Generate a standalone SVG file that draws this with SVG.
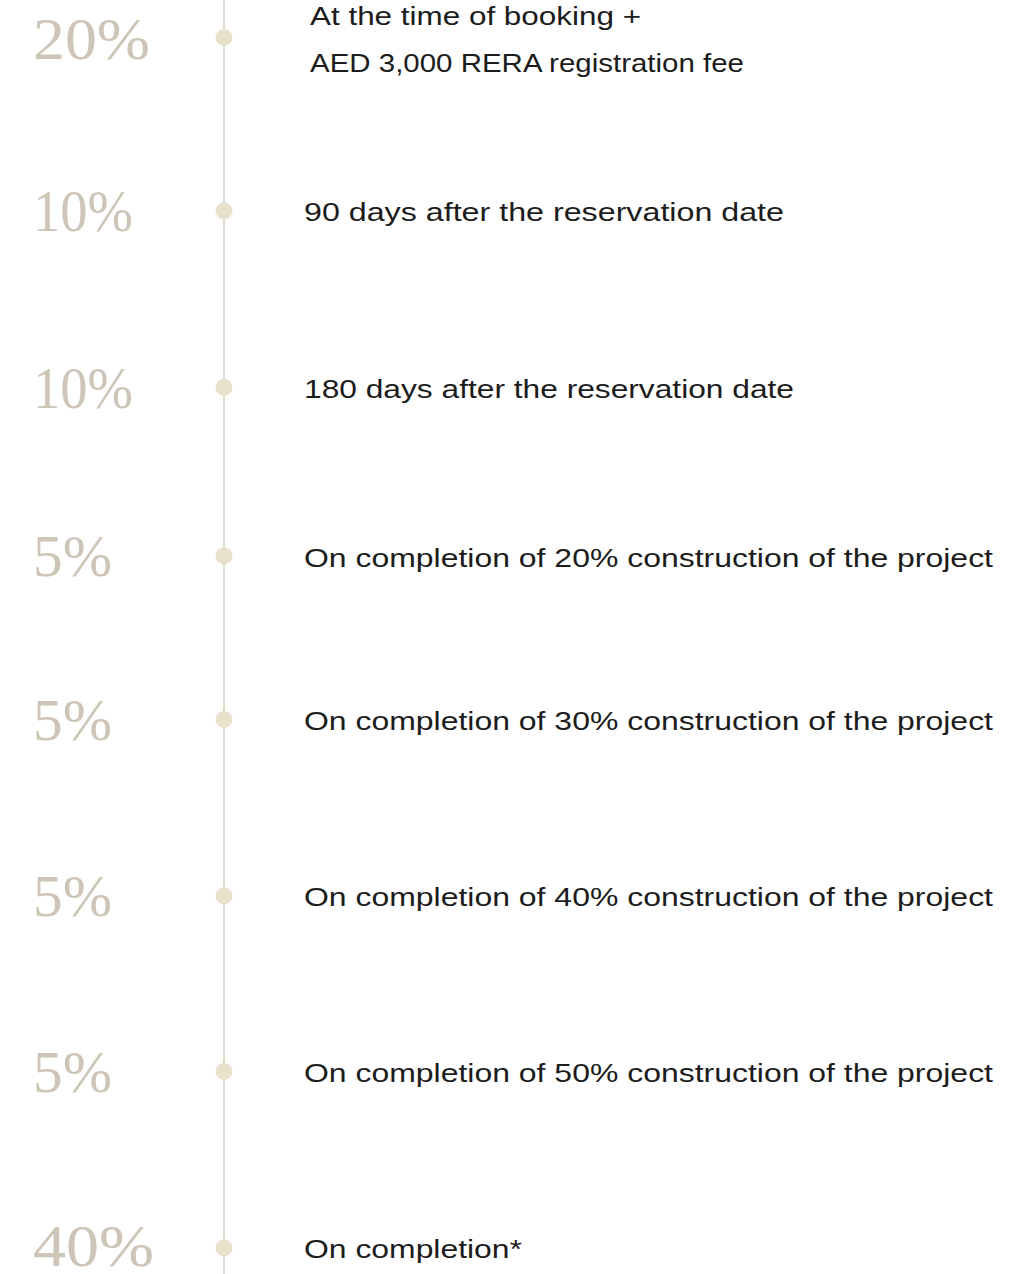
<svg xmlns="http://www.w3.org/2000/svg" width="1021" height="1274" viewBox="0 0 1021 1274">
<style>
.pct{font-family:"Liberation Serif",serif;font-size:60px;fill:#cdc5b7;}
.desc{font-family:"Liberation Sans",Arial,sans-serif;font-size:26px;fill:#1c1c1c;}
.dot{fill:#e8e1cb;}
.line{stroke:#e2dbcf;stroke-width:2;fill:none;}
</style>
<rect width="1021" height="1274" fill="#ffffff"/>
<g id="connectors">
<line class="line" x1="224" y1="0" x2="224" y2="1274"/>
</g>
<g id="row1">
<text class="pct" x="33" y="59" textLength="117" lengthAdjust="spacingAndGlyphs">20%</text>
<circle class="dot" cx="224" cy="37.5" r="8.5"/>
<text class="desc" x="310" y="25" textLength="331" lengthAdjust="spacingAndGlyphs">At the time of booking +</text>
<text class="desc" x="310" y="72" textLength="434" lengthAdjust="spacingAndGlyphs">AED 3,000 RERA registration fee</text>
</g>
<g id="row2">
<text class="pct" x="33" y="231" textLength="100" lengthAdjust="spacingAndGlyphs">10%</text>
<circle class="dot" cx="224" cy="211" r="8.5"/>
<text class="desc" x="304" y="221" textLength="480" lengthAdjust="spacingAndGlyphs">90 days after the reservation date</text>
</g>
<g id="row3">
<text class="pct" x="33" y="408" textLength="100" lengthAdjust="spacingAndGlyphs">10%</text>
<circle class="dot" cx="224" cy="387.5" r="8.5"/>
<text class="desc" x="304" y="398" textLength="490" lengthAdjust="spacingAndGlyphs">180 days after the reservation date</text>
</g>
<g id="row4">
<text class="pct" x="33" y="576" textLength="79" lengthAdjust="spacingAndGlyphs">5%</text>
<circle class="dot" cx="224" cy="556" r="8.5"/>
<text class="desc" x="304" y="567" textLength="689" lengthAdjust="spacingAndGlyphs">On completion of 20% construction of the project</text>
</g>
<g id="row5">
<text class="pct" x="33" y="740" textLength="79" lengthAdjust="spacingAndGlyphs">5%</text>
<circle class="dot" cx="224" cy="719.5" r="8.5"/>
<text class="desc" x="304" y="730" textLength="689" lengthAdjust="spacingAndGlyphs">On completion of 30% construction of the project</text>
</g>
<g id="row6">
<text class="pct" x="33" y="916" textLength="79" lengthAdjust="spacingAndGlyphs">5%</text>
<circle class="dot" cx="224" cy="896" r="8.5"/>
<text class="desc" x="304" y="906" textLength="689" lengthAdjust="spacingAndGlyphs">On completion of 40% construction of the project</text>
</g>
<g id="row7">
<text class="pct" x="33" y="1092" textLength="79" lengthAdjust="spacingAndGlyphs">5%</text>
<circle class="dot" cx="224" cy="1071.5" r="8.5"/>
<text class="desc" x="304" y="1082" textLength="689" lengthAdjust="spacingAndGlyphs">On completion of 50% construction of the project</text>
</g>
<g id="row8">
<text class="pct" x="33" y="1266" textLength="121" lengthAdjust="spacingAndGlyphs">40%</text>
<circle class="dot" cx="224" cy="1248" r="8.5"/>
<text class="desc" x="304" y="1258" textLength="218" lengthAdjust="spacingAndGlyphs">On completion*</text>
</g>
</svg>
